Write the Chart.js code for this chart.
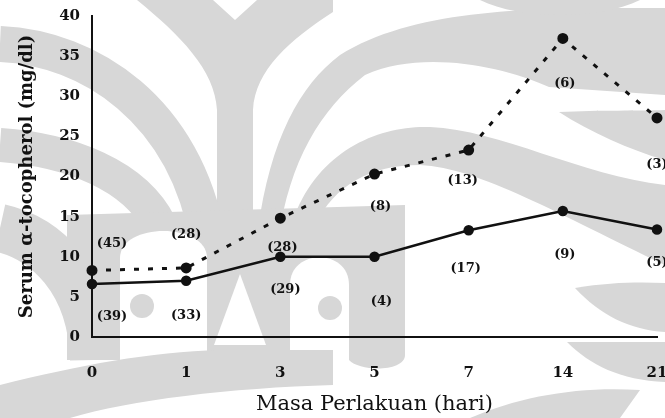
<!DOCTYPE html>
<html>
<head>
<meta charset="utf-8">
<script src="https://cdn.jsdelivr.net/npm/chart.js@4"></script>
<style>
  html, body { margin: 0; padding: 0; background: #fff; }
  #wrap { width: 665px; height: 418px; position: relative; }
</style>
</head>
<body>
<div id="wrap"><canvas id="chart"></canvas></div>
<script>
/* --- Data --- */
const days = ['0', '1', '3', '5', '7', '14', '21'];
const yTicks = [0, 5, 10, 15, 20, 25, 30, 35, 40];
const dashedValues = [8.3, 8.6, 14.8, 20.3, 23.3, 37.2, 27.3];
const solidValues = [6.6, 7.0, 10.0, 10.0, 13.3, 15.7, 13.4];
const dashedN = ['(45)', '(28)', '(28)', '(8)', '(13)', '(6)', '(3)'];
const solidN = ['(39)', '(33)', '(29)', '(4)', '(17)', '(9)', '(5)'];

// label offsets relative to the point (pixels)
const dashedOffsets = [[20, -27], [0, -33], [2, 29], [6, 33], [-6, 31], [2, 45], [0, 47]];
const solidOffsets = [[20, 33], [0, 35], [5, 33], [7, 45], [-3, 38], [2, 44], [0, 33]];

const serif = '"DejaVu Serif", "Liberation Serif", serif';
const ink = '#111';
const shade = '#d7d7d7';

/* --- faint logo watermark behind the chart (scan background) --- */
function path(ctx, cmds) {
  ctx.beginPath();
  cmds.forEach(c => {
    if (c[0] === 'M') ctx.moveTo(c[1], c[2]);
    else if (c[0] === 'L') ctx.lineTo(c[1], c[2]);
    else if (c[0] === 'C') ctx.bezierCurveTo(c[1], c[2], c[3], c[4], c[5], c[6]);
  });
  ctx.closePath();
}

const watermark = {
  id: 'watermark',
  beforeDraw(chart) {
    const ctx = chart.ctx;
    ctx.save();
    ctx.fillStyle = shade;
    ctx.strokeStyle = shade;
    const fill = cmds => { path(ctx, cmds); ctx.fill(); };
    const stroke = (w, p) => {
      ctx.lineWidth = w;
      ctx.beginPath();
      ctx.moveTo(p[0], p[1]);
      ctx.bezierCurveTo(p[2], p[3], p[4], p[5], p[6], p[7]);
      ctx.stroke();
    };

    // central trunk with its top arms
    fill([['M', 137, 0], ['L', 213, 0], ['L', 235, 20], ['L', 257, 0], ['L', 333, 0], ['L', 333, 12],
          ['C', 290, 40, 255, 70, 253, 110], ['L', 253, 285], ['L', 217, 285], ['L', 217, 110],
          ['C', 215, 70, 180, 35, 137, 0]]);

    // left bands
    stroke(36, [0, 44, 90, 48, 185, 110, 208, 240]);
    stroke(34, [0, 145, 70, 150, 135, 175, 160, 225]);
    stroke(48, [0, 228, 45, 238, 92, 280, 94, 360]);

    // right bands
    fill([['M', 665, 8], ['C', 550, 8, 420, 5, 340, 55], ['C', 300, 85, 270, 140, 258, 230],
          ['L', 278, 240], ['C', 290, 160, 320, 110, 365, 75], ['C', 420, 50, 500, 65, 549, 87],
          ['L', 665, 95]]);
    fill([['M', 665, 185], ['C', 580, 175, 500, 130, 430, 127], ['C', 380, 125, 320, 150, 295, 215],
          ['L', 315, 225], ['C', 335, 185, 370, 165, 420, 165], ['C', 480, 168, 560, 215, 665, 265]]);
    fill([['M', 559, 112], ['C', 600, 110, 640, 111, 665, 110], ['L', 665, 160], ['C', 630, 150, 590, 132, 559, 112]]);
    fill([['M', 480, 0], ['L', 640, 0], ['C', 600, 20, 520, 20, 480, 0]]);

    // lower right wedges
    fill([['M', 575, 288], ['C', 610, 282, 640, 282, 665, 283], ['L', 665, 332], ['C', 630, 330, 600, 315, 575, 288]]);
    fill([['M', 567, 342], ['L', 665, 342], ['L', 665, 382], ['C', 620, 380, 590, 365, 567, 342]]);
    fill([['M', 470, 418], ['C', 520, 396, 580, 386, 640, 390], ['L', 620, 418]]);

    // two "eyes" on the lower body of the logo
    fill([['M', 67, 215], ['L', 405, 205], ['L', 405, 355], ['C', 405, 372, 360, 372, 349, 360], ['L', 67, 360]]);
    ctx.fillStyle = '#fff';
    fill([['M', 120, 360], ['L', 120, 258], ['C', 120, 222, 207, 222, 207, 258], ['L', 207, 360]]);
    fill([['M', 290, 360], ['L', 290, 285], ['C', 290, 248, 349, 248, 349, 285], ['L', 349, 360]]);
    fill([['M', 214, 345], ['L', 240, 274], ['L', 266, 345]]);
    ctx.fillStyle = shade;
    ctx.beginPath(); ctx.arc(142, 306, 12, 0, 2 * Math.PI); ctx.fill();
    ctx.beginPath(); ctx.arc(330, 308, 12, 0, 2 * Math.PI); ctx.fill();

    // lower left sweep
    fill([['M', 0, 385], ['C', 80, 365, 150, 352, 220, 350], ['L', 333, 350], ['L', 333, 385],
          ['C', 230, 388, 130, 400, 70, 418], ['L', 0, 418]]);
    ctx.restore();
  }
};

/* --- n labels next to points --- */
const nLabels = {
  id: 'nLabels',
  afterDatasetsDraw(chart) {
    const ctx = chart.ctx;
    ctx.save();
    ctx.fillStyle = ink;
    ctx.font = 'bold 13px ' + serif;
    ctx.textAlign = 'center';
    ctx.textBaseline = 'middle';
    const sets = [[dashedN, dashedOffsets], [solidN, solidOffsets]];
    sets.forEach(([labels, offs], di) => {
      chart.getDatasetMeta(di).data.forEach((pt, i) => {
        ctx.fillText(labels[i], pt.x + offs[i][0], pt.y + offs[i][1]);
      });
    });
    ctx.restore();
  }
};

new Chart(document.getElementById('chart'), {
  type: 'line',
  data: {
    labels: days,
    datasets: [
      {
        data: dashedValues,
        borderColor: ink,
        backgroundColor: ink,
        borderWidth: 3,
        borderDash: [5, 9],
        pointRadius: 4,
        tension: 0
      },
      {
        data: solidValues,
        borderColor: ink,
        backgroundColor: ink,
        borderWidth: 2.5,
        pointRadius: 4,
        tension: 0
      }
    ]
  },
  options: {
    responsive: true,
    maintainAspectRatio: false,
    animation: false,
    layout: { padding: { top: 16, right: 0, left: 0, bottom: 0 } },
    plugins: { legend: { display: false }, tooltip: { enabled: false } },
    scales: {
      x: {
        offset: false,
        afterFit: s => { s.height = 81; s.paddingRight = 8; },
        grid: { display: false, drawTicks: true, tickLength: 6, tickColor: ink },
        border: { display: true, color: ink, width: 2 },
        ticks: { color: ink, font: { family: serif, size: 15, weight: 'bold' }, padding: 21 },
        title: {
          display: true,
          text: 'Masa Perlakuan (hari)',
          color: ink,
          font: { family: serif, size: 21 },
          padding: { top: 0, bottom: 1 }
        }
      },
      y: {
        min: 0,
        max: 40,
        afterFit: s => { s.width = 92; },
        afterBuildTicks: s => { s.ticks = yTicks.map(v => ({ value: v })); },
        grid: { display: false, drawTicks: true, tickLength: 7, tickColor: ink },
        border: { display: true, color: ink, width: 2 },
        ticks: { color: ink, font: { family: serif, size: 15, weight: 'bold' }, padding: 5 },
        title: {
          display: true,
          text: 'Serum α-tocopherol (mg/dl)',
          color: ink,
          font: { family: serif, size: 18, weight: 'bold' },
          padding: { top: 17, bottom: 0 }
        }
      }
    }
  },
  plugins: [watermark, nLabels]
});
</script>
</body>
</html>
